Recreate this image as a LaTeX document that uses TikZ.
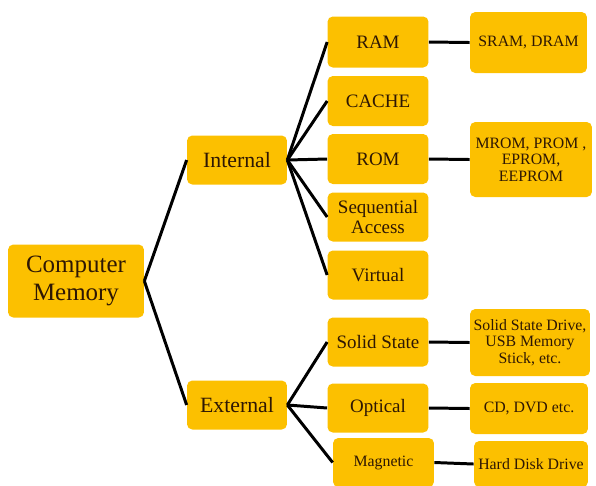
\documentclass[tikz,border=0pt]{standalone}
\usepackage{fontspec}
\setmainfont{Liberation Serif}
\definecolor{boxfill}{HTML}{FCC000}
\definecolor{boxtext}{HTML}{2E1704}
\begin{document}
\begin{tikzpicture}[x=0.02cm, y=-0.02cm,
  memnode/.style={rectangle, fill=boxfill, rounded corners=3pt, text=boxtext,
    align=center, inner sep=1pt},
  link/.style={line width=1.7pt, black}]
\useasboundingbox (0,0) rectangle (596,485);

%Computer Memory
\node[memnode, minimum width=2.72cm, minimum height=1.46cm, font=\fontsize{14.2}{15.5}\selectfont] (memory) at (76,281) {Computer\\Memory};

%Internal
\node[memnode, minimum width=2cm, minimum height=0.98cm, font=\fontsize{12.4}{13}\selectfont] (internal) at (237,160) {Internal};

%External
\node[memnode, minimum width=2cm, minimum height=0.98cm, font=\fontsize{12.4}{13}\selectfont] (external) at (237,405) {External};

%RAM
\node[memnode, minimum width=2.02cm, minimum height=1.02cm, font=\fontsize{10.8}{11.3}\selectfont] (ram) at (378,42) {RAM};

%CACHE
\node[memnode, minimum width=2.02cm, minimum height=1cm, font=\fontsize{10.8}{11.3}\selectfont] (cache) at (378,101) {CACHE};

%ROM
\node[memnode, minimum width=2.02cm, minimum height=1cm, font=\fontsize{10.8}{11.3}\selectfont] (rom) at (378,159) {ROM};

%Sequential Access
\node[memnode, minimum width=2.02cm, minimum height=0.98cm, font=\fontsize{10.8}{11.3}\selectfont] (sequential) at (378,217) {Sequential\\Access};

%Virtual
\node[memnode, minimum width=2.02cm, minimum height=0.98cm, font=\fontsize{10.8}{11.3}\selectfont] (virtual) at (378,275) {Virtual};

%Solid State
\node[memnode, minimum width=2.02cm, minimum height=0.98cm, font=\fontsize{10.8}{11.3}\selectfont] (solid) at (378,342) {Solid State};

%Optical
\node[memnode, minimum width=2.02cm, minimum height=0.98cm, font=\fontsize{10.8}{11.3}\selectfont] (optical) at (378,408) {Optical};

%Magnetic
\node[memnode, minimum width=2.02cm, minimum height=0.98cm, font=\fontsize{9}{9.5}\selectfont] (magnetic) at (383.5,462.5) {Magnetic};

%SRAM, DRAM
\node[memnode, minimum width=2.34cm, minimum height=1.22cm, font=\fontsize{9}{9.3}\selectfont] (sram) at (528.5,42.5) {SRAM, DRAM};

%MROM, PROM
\node[memnode, minimum width=2.44cm, minimum height=1.5cm, font=\fontsize{9}{9.3}\selectfont] (mrom) at (531,159.5) {MROM, PROM ,\\EPROM,\\EEPROM};

%Solid State Drive
\node[memnode, minimum width=2.4cm, minimum height=1.34cm, font=\fontsize{9}{9.3}\selectfont] (ssd) at (530,342.5) {Solid State Drive,\\USB Memory\\Stick, etc.};

%CD, DVD
\node[memnode, minimum width=2.36cm, minimum height=1.02cm, font=\fontsize{9}{9.3}\selectfont] (cd) at (529,408.5) {CD, DVD etc.};

%Hard Disk Drive
\node[memnode, minimum width=2.28cm, minimum height=0.92cm, font=\fontsize{9}{9.3}\selectfont] (hdd) at (531,464) {Hard Disk Drive};

%Memory to Internal and External
\draw[link] (memory.east) -- (internal.west);
\draw[link] (memory.east) -- (external.west);

%Internal branches
\draw[link] (internal.east) -- (ram.west);
\draw[link] (internal.east) -- (cache.west);
\draw[link] (internal.east) -- (rom.west);
\draw[link] (internal.east) -- (sequential.west);
\draw[link] (internal.east) -- (virtual.west);

%External branches
\draw[link] (external.east) -- (solid.west);
\draw[link] (external.east) -- (optical.west);
\draw[link] (external.east) -- (magnetic.west);

%Examples
\draw[link] (ram.east) -- (sram.west);
\draw[link] (rom.east) -- (mrom.west);
\draw[link] (solid.east) -- (ssd.west);
\draw[link] (optical.east) -- (cd.west);
\draw[link] (magnetic.east) -- (hdd.west);

\end{tikzpicture}
\end{document}
